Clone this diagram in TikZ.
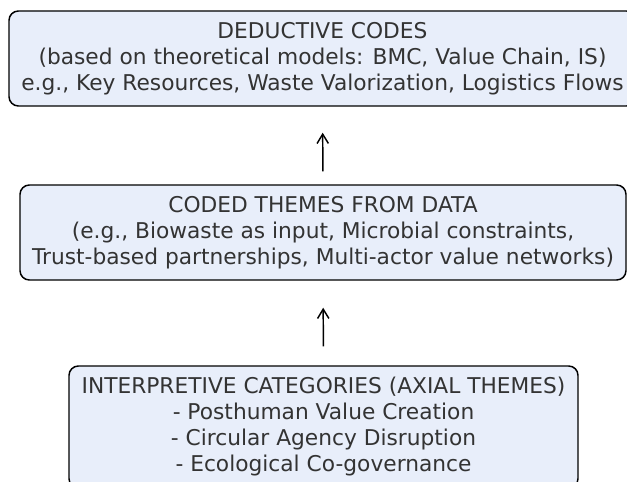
\documentclass[tikz,border=0pt]{standalone}
\usepackage{fontspec}
\setmainfont{DejaVu Sans}
\usetikzlibrary{arrows.meta}

\definecolor{boxfill}{RGB}{232,238,250}
\definecolor{boxtext}{RGB}{51,51,51}

\begin{document}
\begin{tikzpicture}[x=0.75pt, y=-0.75pt, >={Straight Barb[length=7pt,width=8.5pt]},
    every level/.style={draw=black, line width=1.1pt, rounded corners=7pt,
      fill=boxfill, text=boxtext, align=center, inner sep=0pt,
      font=\fontsize{16.3}{19.5}\selectfont},
    up arrow/.style={->, line width=1.1pt}]

  \useasboundingbox (0,0) rectangle (627,481);
  \clip (0,0) rectangle (627,481);

  \node [every level, minimum width=470.25pt, minimum height=71.25pt] (deductive) at (322.5,58.5)
    {DEDUCTIVE CODES\\(based on theoretical models: BMC, Value Chain, IS)\\e.g., Key Resources, Waste Valorization, Logistics Flows};

  \node [every level, minimum width=454.5pt, minimum height=71.25pt] (themes) at (323,232.5)
    {CODED THEMES FROM DATA\\(e.g., Biowaste as input, Microbial constraints,\\Trust-based partnerships, Multi-actor value networks)};

  \node [every level, minimum width=381.75pt, minimum height=91.5pt] (axial) at (323.5,427)
    {INTERPRETIVE CATEGORIES (AXIAL THEMES)\\- Posthuman Value Creation\\- Circular Agency Disruption\\- Ecological Co-governance};

  \draw [up arrow, shorten <=9.75pt, shorten >=19.5pt] (themes.north) -- (deductive.south);
  \draw [up arrow, shorten <=14.25pt, shorten >=20.25pt] (axial.north) -- (themes.south);

\end{tikzpicture}
\end{document}
